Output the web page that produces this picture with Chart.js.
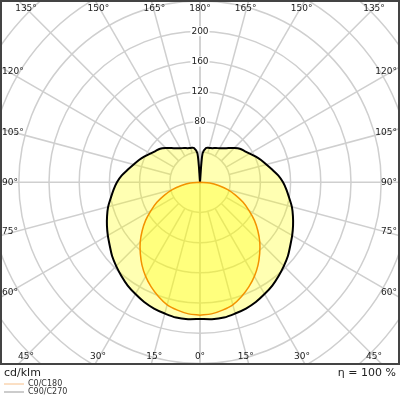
<!DOCTYPE html>
<html>
<head>
<meta charset="utf-8">
<script src="https://cdn.jsdelivr.net/npm/chart.js@4.4.1/dist/chart.umd.min.js"></script>
<style>
html, body { margin: 0; padding: 0; background: #fff; }
#wrap { width: 400px; height: 400px; }
</style>
</head>
<body>
<div id="wrap"><canvas id="ldc" width="400" height="400"></canvas></div>
<script>
// hodnoty odčítané z obrázka (cd/klm), uhol gama od 0° (dole) po 180° (hore)
const gammaC0 = [0, 5, 10, 15, 20, 25, 30, 35, 40, 45, 50, 55, 60, 65, 70, 75, 80, 85, 90];
const valuesC0 = [176, 175, 172, 168, 161, 153, 144, 134, 123, 112, 100, 88, 75, 63, 50, 38, 25, 13, 0];

const gammaC90 = [0, 5, 10, 15, 20, 25, 30, 35, 40, 45, 50, 55, 60, 65, 70, 75, 80, 85, 90,
    95, 100, 105, 110, 115, 120, 125, 130, 135, 140, 145, 150, 155, 160, 165, 170, 175, 180];
const valuesC90 = [181, 182, 182, 180, 178, 175, 171, 167, 162, 157, 152, 146, 141, 136, 131, 126, 120, 115, 110,
    104, 97, 91, 86, 81, 76, 72, 69, 64, 59, 55, 52, 50, 48, 47, 46, 38, 0];

const ringValues = [40, 80, 120, 160, 200, 240, 280, 320, 360, 400];
const ringLabels = [80, 120, 160, 200];
const spokeAngles = [0, 15, 30, 45, 60, 75, 90, 105, 120, 135, 150, 165, 180];
const legendLabels = ['C0/C180', 'C90/C270'];
const unitText = 'cd/klm';
const etaText = 'η = 100 %';

// rozsah osí, aby mierka x a y bola rovnaká
const xHalf = 263.6;
const yTop = 240;
const yBottom = -240.7;

const rad = d => d * Math.PI / 180;

// uzavretý tvar: ľavá polovica dole->hore, potom pravá späť
function toShape(gammas, values) {
    const pts = [];
    gammas.forEach((g, i) => {
        pts.push({ x: -values[i] * Math.sin(rad(g)), y: -values[i] * Math.cos(rad(g)) });
    });
    for (let i = gammas.length - 1; i >= 0; i--) {
        const g = gammas[i];
        pts.push({ x: values[i] * Math.sin(rad(g)), y: -values[i] * Math.cos(rad(g)) });
    }
    return pts;
}

const polarGrid = {
    id: 'polarGrid',
    beforeDraw(chart) {
        const { ctx, chartArea: a, scales: { x, y } } = chart;
        const cx = x.getPixelForValue(0), cy = y.getPixelForValue(0);
        const px = v => x.getPixelForValue(v) - cx;
        ctx.save();
        ctx.beginPath();
        ctx.rect(a.left, a.top, a.right - a.left, a.bottom - a.top);
        ctx.clip();
        ctx.strokeStyle = '#cfcfcf';
        ctx.lineWidth = 1.5;
        ringValues.forEach(r => {
            ctx.beginPath();
            ctx.arc(cx, cy, px(r), 0, Math.PI * 2);
            ctx.stroke();
        });
        spokeAngles.forEach(g => {
            const r0 = (g % 90 === 0) ? 0 : ringValues[0];
            [-1, 1].forEach(s => {
                ctx.beginPath();
                ctx.moveTo(x.getPixelForValue(s * r0 * Math.sin(rad(g))), y.getPixelForValue(-r0 * Math.cos(rad(g))));
                ctx.lineTo(x.getPixelForValue(s * 600 * Math.sin(rad(g))), y.getPixelForValue(-600 * Math.cos(rad(g))));
                ctx.stroke();
            });
        });
        ctx.restore();
    },
    afterDraw(chart) {
        const { ctx, chartArea: a, scales: { x, y } } = chart;
        const cx = x.getPixelForValue(0), cy = y.getPixelForValue(0);
        ctx.save();
        ctx.font = '9px "DejaVu Sans"';
        ctx.fillStyle = '#222';
        ctx.textBaseline = 'middle';

        // popisky kruhov
        ctx.textAlign = 'center';
        ringLabels.forEach(v => {
            const ty = y.getPixelForValue(v);
            const w = ctx.measureText(String(v)).width;
            ctx.fillStyle = '#fff';
            ctx.fillRect(cx - w / 2 - 1, ty - 5, w + 2, 10);
            ctx.fillStyle = '#222';
            ctx.fillText(String(v), cx, ty);
        });

        // popisky uhlov na okraji rámu
        spokeAngles.forEach(g => {
            const sides = (g === 0 || g === 180) ? [1] : [-1, 1];
            sides.forEach(s => {
                const dx = s * Math.sin(rad(g)), dy = Math.cos(rad(g));
                let tx = Infinity, ty = Infinity;
                if (Math.abs(dx) > 1e-6) tx = dx > 0 ? (a.right - cx) / dx : (a.left - cx) / dx;
                if (Math.abs(dy) > 1e-6) ty = dy > 0 ? (a.bottom - cy) / dy : (a.top - cy) / dy;
                const t = Math.min(tx, ty);
                const ix = cx + dx * t, iy = cy + dy * t;
                const txt = g + '°';
                if (tx < ty) {
                    ctx.textAlign = s < 0 ? 'left' : 'right';
                    const lx = s < 0 ? a.left + 1 : a.right - 2;
                    const ly = iy + (iy < cy - 2 ? 4 : (iy > cy + 2 ? -4 : 0));
                    ctx.fillText(txt, lx, ly);
                } else {
                    ctx.textAlign = 'center';
                    const lx = Math.min(Math.max(ix + (ix < cx - 2 ? 3 : (ix > cx + 2 ? -3 : 0)), a.left + 25), a.right - 25);
                    const ly = dy > 0 ? a.bottom - 7 : a.top + 8;
                    ctx.fillText(txt, lx, ly);
                }
            });
        });

        // rám
        ctx.strokeStyle = '#444';
        ctx.lineWidth = 2;
        ctx.strokeRect(a.left, a.top, a.right - a.left, a.bottom - a.top);

        // jednotky a účinnosť
        ctx.font = '11px "DejaVu Sans"';
        ctx.fillStyle = '#222';
        ctx.textAlign = 'left';
        ctx.fillText(unitText, 4, a.bottom + 9);
        ctx.textAlign = 'right';
        ctx.fillText(etaText, 396, a.bottom + 9);

        // legenda
        ctx.font = '8px "DejaVu Sans"';
        ctx.textAlign = 'left';
        const legendColors = ['#f7c08a', '#999'];
        legendLabels.forEach((lab, i) => {
            const ly = a.bottom + 20 + i * 8;
            ctx.strokeStyle = legendColors[i];
            ctx.lineWidth = 1;
            ctx.beginPath();
            ctx.moveTo(4, ly);
            ctx.lineTo(24, ly);
            ctx.stroke();
            ctx.fillStyle = '#333';
            ctx.fillText(lab, 28, ly);
        });
        ctx.restore();
    }
};

const ctx = document.getElementById('ldc').getContext('2d');
const chart = new Chart(ctx, {
    type: 'scatter',
    data: {
        datasets: [{
            label: legendLabels[0],
            data: toShape(gammaC0, valuesC0),
            showLine: true,
            borderColor: '#f39200',
            borderWidth: 1.5,
            backgroundColor: 'rgba(255,255,0,0.3)',
            fill: 'shape',
            pointRadius: 0,
            tension: 0.3
        }, {
            label: legendLabels[1],
            data: toShape(gammaC90, valuesC90),
            showLine: true,
            borderColor: '#000',
            borderWidth: 2,
            backgroundColor: 'rgba(255,255,0,0.3)',
            fill: 'shape',
            pointRadius: 0,
            tension: 0.3
        }]
    },
    options: {
        responsive: false,
        animation: false,
        devicePixelRatio: 1,
        layout: { padding: { left: 1, right: 1, top: 1, bottom: 36 } },
        plugins: { legend: { display: false }, tooltip: { enabled: false } },
        scales: {
            x: { type: 'linear', display: false, min: -xHalf, max: xHalf },
            y: { type: 'linear', display: false, min: yBottom, max: yTop }
        }
    },
    plugins: [polarGrid]
});
</script>
</body>
</html>
